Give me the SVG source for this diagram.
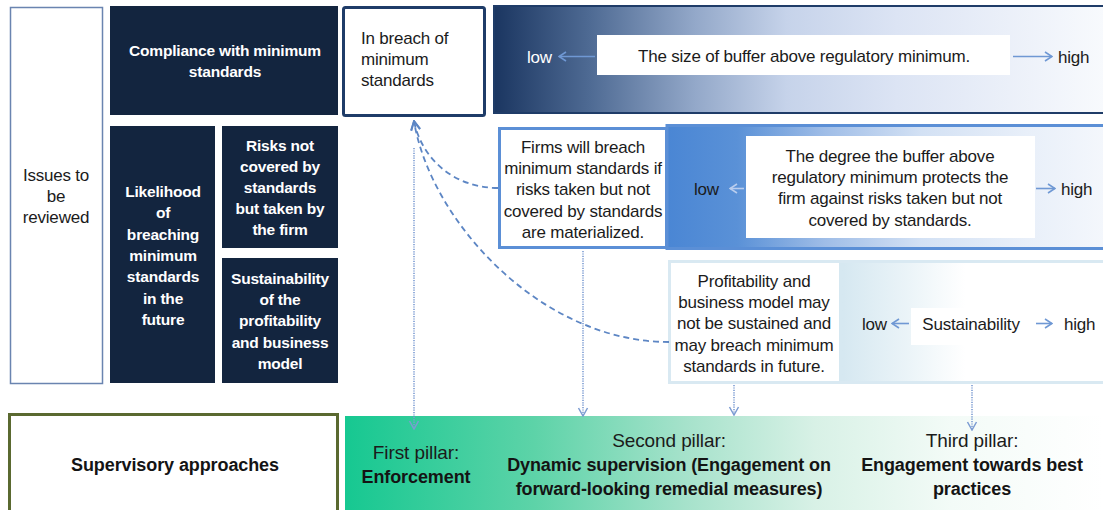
<svg xmlns="http://www.w3.org/2000/svg" width="1103" height="510" viewBox="0 0 1103 510">
  <style>
    text { font-family: "Liberation Sans", Arial, sans-serif; fill: #1b1b1b; }
    .hd { font-size: 15.5px; font-weight: bold; fill: #ffffff; text-anchor: middle; letter-spacing: -0.2px; }
    .bd { font-size: 17px; letter-spacing: -0.2px; }
    .mid { text-anchor: middle; }
    .lh { font-size: 17px; letter-spacing: -0.2px; }
    .lhw { font-size: 17px; letter-spacing: -0.2px; fill: #ffffff; }
    .big { font-size: 19px; letter-spacing: -0.1px; text-anchor: middle; }
    .bigb { font-size: 18px; font-weight: bold; letter-spacing: -0.1px; text-anchor: middle; fill: #141414; }
    .dark { fill: #13253f; }
    .dash { fill: none; stroke: #5d86c4; stroke-width: 1.8; stroke-dasharray: 6 4; }
    .dot { fill: none; stroke: #7c9cd2; stroke-width: 1.6; stroke-dasharray: 1.2 1.2; }
    .scale { fill: none; stroke: #6f98d4; stroke-width: 1.6; }
    .scale2 { fill: none; stroke: #b9cdee; stroke-width: 1.6; }
  </style>
  <defs>
    <linearGradient id="gTop" x1="0" y1="0" x2="1" y2="0">
      <stop offset="0" stop-color="#1a3560"/>
      <stop offset="0.16" stop-color="#4f6b94"/>
      <stop offset="0.33" stop-color="#93a8c9"/>
      <stop offset="0.48" stop-color="#c6d3ea"/>
      <stop offset="0.66" stop-color="#dce4f4"/>
      <stop offset="1" stop-color="#f8fafd"/>
    </linearGradient>
    <linearGradient id="gMid" x1="0" y1="0" x2="1" y2="0">
      <stop offset="0" stop-color="#4a86d4"/>
      <stop offset="0.16" stop-color="#5a91d7"/>
      <stop offset="0.36" stop-color="#9fbde7"/>
      <stop offset="0.58" stop-color="#d3e1f4"/>
      <stop offset="0.82" stop-color="#e8eff9"/>
      <stop offset="1" stop-color="#f4f7fc"/>
    </linearGradient>
    <linearGradient id="gLow" x1="0" y1="0" x2="1" y2="0">
      <stop offset="0" stop-color="#d3e6ef"/>
      <stop offset="0.4" stop-color="#d6e8f1"/>
      <stop offset="0.55" stop-color="#ebf4f8"/>
      <stop offset="0.68" stop-color="#ffffff"/>
      <stop offset="1" stop-color="#ffffff"/>
    </linearGradient>
    <linearGradient id="gGreen" x1="0" y1="0" x2="1" y2="0">
      <stop offset="0" stop-color="#16c891"/>
      <stop offset="0.25" stop-color="#5dd3a8"/>
      <stop offset="0.45" stop-color="#a6e2cb"/>
      <stop offset="0.62" stop-color="#d8f1e6"/>
      <stop offset="0.8" stop-color="#f3fbf7"/>
      <stop offset="1" stop-color="#ffffff"/>
    </linearGradient>
    <marker id="mDash" viewBox="0 0 12 12" refX="11" refY="6" markerWidth="12" markerHeight="12" markerUnits="userSpaceOnUse" orient="auto">
      <path d="M2,1.5 L11,6 L2,10.5" fill="none" stroke="#5d86c4" stroke-width="1.8"/>
    </marker>
    <marker id="mDot" viewBox="0 0 12 12" refX="11" refY="6" markerWidth="12" markerHeight="12" markerUnits="userSpaceOnUse" orient="auto">
      <path d="M3,1.5 L11,6 L3,10.5" fill="none" stroke="#7c9cd2" stroke-width="1.5"/>
    </marker>
    <marker id="mScale" viewBox="0 0 12 12" refX="11" refY="6" markerWidth="12" markerHeight="12" markerUnits="userSpaceOnUse" orient="auto">
      <path d="M4,1.5 L11,6 L4,10.5" fill="none" stroke="#6f98d4" stroke-width="1.6"/>
    </marker>
    <marker id="mScale2" viewBox="0 0 12 12" refX="11" refY="6" markerWidth="12" markerHeight="12" markerUnits="userSpaceOnUse" orient="auto">
      <path d="M4,1.5 L11,6 L4,10.5" fill="none" stroke="#b9cdee" stroke-width="1.6"/>
    </marker>
  </defs>

  <rect width="1103" height="510" fill="#ffffff"/>

  <!-- left label column -->
  <g id="issues">
    <rect x="10.5" y="7.5" width="92" height="376" fill="#ffffff" stroke="#6a84b0" stroke-width="1.5"/>
    <text class="bd mid" x="56" y="181">Issues to</text>
    <text class="bd mid" x="56" y="202">be</text>
    <text class="bd mid" x="56" y="223">reviewed</text>
  </g>

  <g id="compliance">
    <rect class="dark" x="110" y="6" width="228" height="109"/>
    <text class="hd" x="225" y="56">Compliance with minimum</text>
    <text class="hd" x="225" y="77">standards</text>
  </g>

  <g id="likelihood">
    <rect class="dark" x="110" y="126" width="105" height="257"/>
    <text class="hd" x="163" y="197">Likelihood</text>
    <text class="hd" x="163" y="218">of</text>
    <text class="hd" x="163" y="240">breaching</text>
    <text class="hd" x="163" y="261">minimum</text>
    <text class="hd" x="163" y="282">standards</text>
    <text class="hd" x="163" y="304">in the</text>
    <text class="hd" x="163" y="325">future</text>
  </g>

  <g id="risks">
    <rect class="dark" x="222" y="126" width="116" height="122"/>
    <text class="hd" x="280" y="151">Risks not</text>
    <text class="hd" x="280" y="172">covered by</text>
    <text class="hd" x="280" y="193">standards</text>
    <text class="hd" x="280" y="214">but taken by</text>
    <text class="hd" x="280" y="235">the firm</text>
  </g>

  <g id="sustainability">
    <rect class="dark" x="222" y="258" width="116" height="125"/>
    <text class="hd" x="280" y="284">Sustainability</text>
    <text class="hd" x="280" y="305">of the</text>
    <text class="hd" x="280" y="326">profitability</text>
    <text class="hd" x="280" y="348">and business</text>
    <text class="hd" x="280" y="369">model</text>
  </g>

  <!-- first row: breach and buffer size -->
  <g id="breach">
    <rect x="343.5" y="7.5" width="141" height="108" rx="2" fill="#ffffff" stroke="#1f3c68" stroke-width="3"/>
    <text class="bd" x="361" y="44">In breach of</text>
    <text class="bd" x="361" y="65">minimum</text>
    <text class="bd" x="361" y="86">standards</text>
  </g>

  <g id="buffer-size">
    <rect x="493" y="5" width="612" height="109" fill="url(#gTop)"/>
    <rect x="494" y="6" width="612" height="107" fill="none" stroke="#1f3c68" stroke-width="2"/>
    <rect x="597" y="35" width="413" height="40" fill="#ffffff"/>
    <text class="bd mid" x="804" y="62">The size of buffer above regulatory minimum.</text>
    <text class="lhw" x="527" y="63">low</text>
    <path class="scale" d="M595,56.5 H559" marker-end="url(#mScale)"/>
    <path class="scale" d="M1013,56.5 H1052" marker-end="url(#mScale)"/>
    <text class="lh" x="1058" y="63">high</text>
  </g>

  <!-- second row: buffer protection against uncovered risks -->
  <g id="buffer-protection">
    <rect x="667" y="125.5" width="438" height="123" fill="url(#gMid)" stroke="#5b8fd6" stroke-width="3"/>
    <rect x="746" y="136" width="289" height="102" fill="#ffffff"/>
    <text class="bd mid" x="890" y="162">The degree the buffer above</text>
    <text class="bd mid" x="890" y="183">regulatory minimum protects the</text>
    <text class="bd mid" x="890" y="204">firm against risks taken but not</text>
    <text class="bd mid" x="890" y="226">covered by standards.</text>
    <text class="lh" x="694" y="195">low</text>
    <path class="scale2" d="M744,188.5 H730" marker-end="url(#mScale2)"/>
    <path class="scale" d="M1036,188.5 H1055" marker-end="url(#mScale)"/>
    <text class="lh" x="1061" y="195">high</text>
  </g>

  <g id="firms-breach">
    <rect x="499.5" y="128.5" width="167" height="119" fill="#ffffff" stroke="#5b8fd6" stroke-width="3"/>
    <text class="bd mid" x="583" y="153">Firms will breach</text>
    <text class="bd mid" x="583" y="174">minimum standards if</text>
    <text class="bd mid" x="583" y="195">risks taken but not</text>
    <text class="bd mid" x="583" y="217">covered by standards</text>
    <text class="bd mid" x="583" y="238">are materialized.</text>
  </g>

  <!-- third row: sustainability -->
  <g id="sustainability-scale">
    <rect x="669.5" y="261.5" width="435" height="121" fill="url(#gLow)" stroke="#d9e9f2" stroke-width="3"/>
    <rect x="911" y="308" width="124" height="37" fill="#ffffff"/>
    <text class="bd mid" x="971" y="330">Sustainability</text>
    <text class="lh" x="862" y="330">low</text>
    <path class="scale" d="M909,323.5 H892" marker-end="url(#mScale)"/>
    <path class="scale" d="M1036,323.5 H1052" marker-end="url(#mScale)"/>
    <text class="lh" x="1064" y="330">high</text>
  </g>

  <g id="profitability">
    <rect x="671" y="263" width="168" height="118" fill="#ffffff"/>
    <text class="bd mid" x="754" y="287">Profitability and</text>
    <text class="bd mid" x="754" y="308">business model may</text>
    <text class="bd mid" x="754" y="329">not be sustained and</text>
    <text class="bd mid" x="754" y="351">may breach minimum</text>
    <text class="bd mid" x="754" y="372">standards in future.</text>
  </g>

  <!-- bottom row: supervisory approaches -->
  <g id="approaches">
    <rect x="9.5" y="414.5" width="328" height="100" fill="#ffffff" stroke="#5a6930" stroke-width="3"/>
    <text class="bigb" x="175" y="471">Supervisory approaches</text>
  </g>

  <g id="pillars">
    <rect x="345" y="416" width="758" height="94" fill="url(#gGreen)"/>
    <text class="big" x="416" y="459">First pillar:</text>
    <text class="bigb" x="416" y="483">Enforcement</text>
    <text class="big" x="669" y="447">Second pillar:</text>
    <text class="bigb" x="669" y="471">Dynamic supervision (Engagement on</text>
    <text class="bigb" x="669" y="495">forward-looking remedial measures)</text>
    <text class="big" x="972" y="447">Third pillar:</text>
    <text class="bigb" x="972" y="471">Engagement towards best</text>
    <text class="bigb" x="972" y="495">practices</text>
  </g>

  <!-- connectors -->
  <g id="connectors">
    <path class="dash" d="M498,188 C455,188 422,160 414,121" marker-end="url(#mDash)"/>
    <path class="dash" d="M669,342 C540,342 430,220 414,121" marker-end="url(#mDash)"/>
    <path class="dot" d="M414,148 V429" marker-end="url(#mDot)"/>
    <path class="dot" d="M583,251 V416" marker-end="url(#mDot)"/>
    <path class="dot" d="M734,385 V415" marker-end="url(#mDot)"/>
    <path class="dot" d="M972,385 V430" marker-end="url(#mDot)"/>
  </g>
</svg>
